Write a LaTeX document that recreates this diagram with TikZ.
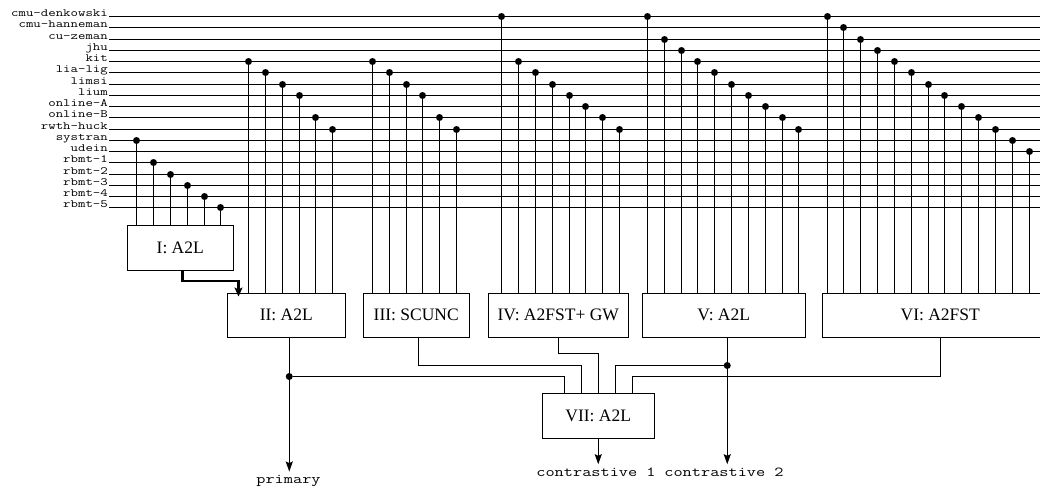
\documentclass[tikz,border=0pt]{standalone}
\usepackage{fontspec}
\setmainfont{Liberation Serif}
\newfontfamily\sysfont[FakeStretch=1.3]{Latin Modern Mono}
\usetikzlibrary{arrows.meta}

\begin{document}
\begin{tikzpicture}[
    x=1pt,y=-1pt,
    wire/.style={line width=1.5pt},
    combo/.style={draw,line width=1.5pt,inner sep=0pt,anchor=north west,
        minimum height=44pt,font=\fontsize{17.5}{18}\selectfont},
    joint/.style={circle,fill,inner sep=0pt,minimum size=7pt},
    sysname/.style={anchor=base east,inner sep=0pt,font=\fontsize{11.1}{11}\sysfont},
    runname/.style={anchor=base,inner sep=3pt,font=\fontsize{13.7}{13.5}\sysfont},
    result/.style={wire,-{Stealth[length=10pt,width=7pt,inset=1.5pt]}},
    feed/.style={line width=2.6pt,-{Stealth[length=9pt,width=8pt,inset=2pt]},shorten >=-4pt},
]
\clip (0,0) rectangle (1040,487);

% System rows
\foreach \sys [count=\i from 0] in {cmu-denkowski,cmu-hanneman,cu-zeman,jhu,kit,
    lia-lig,limsi,lium,online-A,online-B,rwth-huck,systran,udein,
    rbmt-1,rbmt-2,rbmt-3,rbmt-4,rbmt-5}{
  \node[sysname] (s\i) at (108,{floor(16.7+11.25*\i)+0.5}) {\sys};
  \coordinate (e\i) at (1040,{floor(16.7+11.25*\i)+0.5});
  \draw[wire] ([xshift=1pt]s\i.base east) -- (e\i);
}

% Combination boxes
\node[combo,minimum width=106pt,minimum height=45pt] (b1) at (126.5,224.5) {I: A2L};
\node[combo,minimum width=118pt] (b2) at (226.5,292.5) {II: A2L};
\node[combo,minimum width=106pt] (b3) at (362.5,292.5) {III: SCUNC};
\node[combo,minimum width=140pt] (b4) at (487.5,292.5) {IV: A2FST+ GW};
\node[combo,minimum width=163pt] (b5) at (641.5,292.5) {V: A2L};
\node[combo,minimum width=236pt] (b6) at (821.5,292.5) {VI: A2FST};
\node[combo,minimum width=112pt,minimum height=45pt] (b7) at (541.5,392.5) {VII: A2L};

% Inputs of each box
\foreach \g/\x/\rows in {1/136.7/{11,13,14,15,16,17},
    2/248.5/{4,5,6,7,9,10},
    3/372.3/{4,5,6,7,9,10},
    4/501.7/{0,4,5,6,7,8,9,10},
    5/647.3/{0,2,3,4,5,6,7,8,9,10},
    6/827/{0,1,2,3,4,5,6,7,8,9,10,11,12}}{
  \foreach \r [count=\k from 0] in \rows{
    \node[joint] (j\g-\k) at ({floor(\x+16.85*\k)+0.5},{floor(16.7+11.25*\r)+0.5}) {};
    \draw[wire] (j\g-\k) -- (j\g-\k |- b\g.north);
  }
}

% I feeds II
\draw[feed] ([xshift=2pt]b1.south) |- ([xshift=12pt,yshift=11.5pt]b2.north west)
    -- ([xshift=12pt]b2.north west);

% Outputs
\node[runname] (p) at (288.5,483) {primary};
\node[runname] (c1) at (596,476) {contrastive 1};
\node[runname] (c2) at (724,476) {contrastive 2};

\coordinate (o2) at ([xshift=3pt]b2.south);
\coordinate (o5) at ([xshift=3.5pt]b5.south);
\node[joint] (m2) at (o2 |- 0,376.5) {};
\node[joint] (m5) at (o5 |- 0,365.5) {};

\draw[result] (o2) -- (o2 |- p.north);
\draw[result] (o5) -- (o5 |- c2.north);
\draw[result] (b7.south) -- (b7.south |- c1.north);

% Into VII
\draw[wire] (m2) -| ([xshift=-34pt]b7.north);
\draw[wire] ([xshift=2pt]b3.south) |- ([xshift=-17pt,yshift=27pt]b7.north)
    -- ([xshift=-17pt]b7.north);
\draw[wire] (b4.south) |- ([yshift=39pt]b7.north) -- (b7.north);
\draw[wire] (m5) -| ([xshift=17pt]b7.north);
\draw[wire] (b6.south) |- ([xshift=34pt,yshift=16pt]b7.north)
    -- ([xshift=34pt]b7.north);
\end{tikzpicture}
\end{document}
